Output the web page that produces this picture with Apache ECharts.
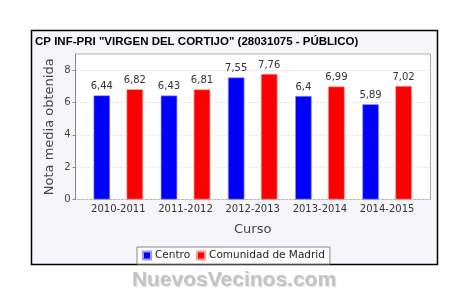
<!DOCTYPE html>
<html>
<head>
<meta charset="utf-8">
<script src="https://cdn.jsdelivr.net/npm/echarts@6/dist/echarts.min.js"></script>
<style>
html,body{margin:0;padding:0;background:#fff;}
#c{width:468px;height:295px;}
</style>
</head>
<body>
<div id="c"></div>
<script>
var categories = ["2010-2011", "2011-2012", "2012-2013", "2013-2014", "2014-2015"];
var centro = [6.44, 6.43, 7.55, 6.4, 5.89];
var madrid = [6.82, 6.81, 7.76, 6.99, 7.02];
var yTicks = [0, 2, 4, 6, 8];
var titleText = 'CP INF-PRI "VIRGEN DEL CORTIJO" (28031075 - PÚBLICO)';
var seriesNames = ["Centro", "Comunidad de Madrid"];

var chart = echarts.init(document.getElementById('c'), null, {renderer: 'canvas'});
var fmt = function (v) { return String(v).replace('.', ','); };
var font = 'DejaVu Sans';
chart.setOption({
  animation: false,
  backgroundColor: '#ffffff',
  graphic: [
    {type: 'rect', z: -10, shape: {x: 31.5, y: 30.5, width: 406, height: 234},
     style: {fill: '#f6f6fa', stroke: '#000', lineWidth: 1.5}},
    {type: 'text', left: 'center', top: 270,
     style: {text: 'NuevosVecinos.com', fill: '#c4c4c4', font: 'bold 21px "Liberation Sans", Arial, sans-serif',
             textShadowColor: 'rgba(0,0,0,0.15)', textShadowBlur: 1, textShadowOffsetX: 1, textShadowOffsetY: 1}}
  ],
  title: {
    text: titleText, left: 32, top: 34, padding: [2, 3],
    textStyle: {fontFamily: 'Liberation Sans', fontWeight: 'bold', fontSize: 11.5, color: '#000'}
  },
  legend: {
    data: seriesNames, left: 137, top: 247, icon: 'rect', itemWidth: 8, itemHeight: 8, itemGap: 6,
    padding: [3, 5], backgroundColor: '#fff', borderColor: '#888', borderWidth: 1,
    textStyle: {fontFamily: font, fontSize: 10.5, color: '#222', padding: [0, 0, 0, -1]}
  },
  grid: [
    {left: 75.5, top: 54, width: 355, height: 145.5, show: true, backgroundColor: '#fff', borderColor: '#aaa', borderWidth: 1, containLabel: false},
    {left: 84.7, top: 54, width: 336, height: 145.5, show: false, containLabel: false}
  ],
  xAxis: [
    {gridIndex: 0, type: 'value', min: 0, max: 1, show: false},
    {gridIndex: 1, type: 'category', data: categories,
     axisLine: {show: false}, axisTick: {show: false},
     axisLabel: {fontFamily: font, fontSize: 10, color: '#333', margin: 5, interval: 0},
     name: 'Curso', nameLocation: 'middle', nameGap: 24, nameMoveOverlap: false,
     nameTextStyle: {fontFamily: font, fontSize: 13, color: '#444'}}
  ],
  yAxis: [
    {gridIndex: 0, type: 'value', min: 0, max: 9, interval: 2,
     axisLine: {show: true, lineStyle: {color: '#888'}},
     axisTick: {show: true, length: 3, lineStyle: {color: '#888'}},
     axisLabel: {fontFamily: font, fontSize: 10, color: '#444', margin: 5, showMaxLabel: false,
                 formatter: function (v) { return yTicks.indexOf(v) >= 0 ? String(v) : ''; }},
     splitLine: {show: true, lineStyle: {color: '#e0e0e0', type: [2, 2]}},
     name: 'Nota media obtenida', nameLocation: 'middle', nameGap: 19, nameMoveOverlap: false,
     nameTextStyle: {fontFamily: font, fontSize: 13, color: '#444'}},
    {gridIndex: 1, type: 'value', min: 0, max: 9, show: false, splitLine: {show: false}}
  ],
  series: [
    {name: seriesNames[0], type: 'bar', xAxisIndex: 1, yAxisIndex: 1, data: centro,
     barWidth: 16.5, barGap: '100%',
     itemStyle: {color: '#0000ff', borderColor: '#9a9aff', borderWidth: 0.6},
     label: {show: true, position: 'top', distance: 4, formatter: function (p) { return fmt(p.value); },
             fontFamily: font, fontSize: 10, color: '#333'}},
    {name: seriesNames[1], type: 'bar', xAxisIndex: 1, yAxisIndex: 1, data: madrid,
     barWidth: 16.5, barGap: '100%',
     itemStyle: {color: '#ff0000', borderColor: '#ff9a9a', borderWidth: 0.6},
     label: {show: true, position: 'top', distance: 4, formatter: function (p) { return fmt(p.value); },
             fontFamily: font, fontSize: 10, color: '#333'}}
  ]
});
</script>
</body>
</html>
